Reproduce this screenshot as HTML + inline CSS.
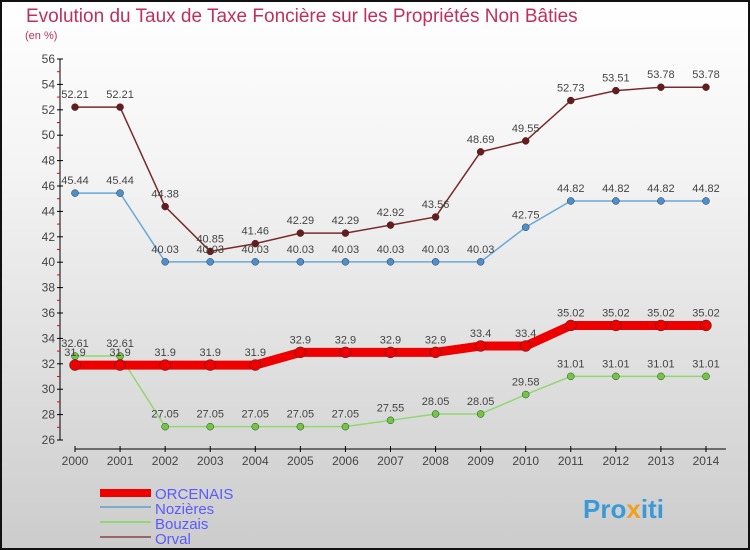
<!DOCTYPE html>
<html><head><meta charset="utf-8"><style>
body{margin:0}
#c{width:750px;height:550px;position:relative;box-sizing:border-box;border:2px solid #111;background:linear-gradient(#fff,#f4f4f4 30%,#ccc);font-family:"Liberation Sans",sans-serif;overflow:hidden}
</style></head><body>
<div id="c">
<svg id="s" width="750" height="550" style="position:absolute;left:-2px;top:-2px">
<text x="26" y="22" font-size="19" fill="#c0305a">Evolution du Taux de Taxe Foncière sur les Propriétés Non Bâties</text>
<text x="25" y="39" font-size="11" fill="#c0305a">(en %)</text>
<g id="axes"></g><g id="series"></g>
<g>
<rect x="100" y="489" width="51" height="8" fill="#e00"/>
<text x="155" y="499" font-size="15" fill="#5a5aff">ORCENAIS</text>
<rect x="100" y="506" width="51" height="2" fill="#7aaed0"/>
<text x="155" y="514" font-size="15" fill="#5a5aff">Nozières</text>
<rect x="100" y="521" width="51" height="2" fill="#90d870"/>
<text x="155" y="529" font-size="15" fill="#5a5aff">Bouzais</text>
<rect x="100" y="536" width="51" height="2" fill="#966"/>
<text x="155" y="544" font-size="15" fill="#5a5aff">Orval</text>
</g>
<text x="583" y="518" font-size="26" font-weight="bold" fill="#3a9ad8">Pro<tspan fill="#f0a020">x</tspan>iti</text>
</svg>
</div>
<script>
const years=[2000,2001,2002,2003,2004,2005,2006,2007,2008,2009,2010,2011,2012,2013,2014];
const orcenais=[31.9,31.9,31.9,31.9,31.9,32.9,32.9,32.9,32.9,33.4,33.4,35.02,35.02,35.02,35.02];
const nozieres=[45.44,45.44,40.03,40.03,40.03,40.03,40.03,40.03,40.03,40.03,42.75,44.82,44.82,44.82,44.82];
const bouzais=[32.61,32.61,27.05,27.05,27.05,27.05,27.05,27.55,28.05,28.05,29.58,31.01,31.01,31.01,31.01];
const orval=[52.21,52.21,44.38,40.85,41.46,42.29,42.29,42.92,43.56,48.69,49.55,52.73,53.51,53.78,53.78];
const yTicks=[26,28,30,32,34,36,38,40,42,44,46,48,50,52,54,56];
const NS="http://www.w3.org/2000/svg";
const X=i=>75+i*45.07, Y=v=>440-(v-26)*12.7;
function mk(t,a,p){const e=document.createElementNS(NS,t);for(const k in a)e.setAttribute(k,a[k]);p.appendChild(e);return e;}
const ax=document.getElementById('axes');
const yl=mk('line',{x1:60,x2:60,y1:Y(56),y2:Y(26),stroke:'#000'},ax);


yTicks.forEach(v=>{
 mk('line',{x1:57,x2:63,y1:Y(v),y2:Y(v),stroke:'#000'},ax);
 if(v<56) mk('line',{x1:57,x2:60,y1:Y(v+1),y2:Y(v+1),stroke:'#e00'},ax);
 const t=mk('text',{x:55,y:Y(v)+4,'font-size':12,'text-anchor':'end',fill:'#444'},ax);t.textContent=v;
 
 
});
const xl=mk('line',{x1:75,x2:X(14)+20,y1:449,y2:449,stroke:'#000'},ax);


years.forEach((y,i)=>{
 mk('line',{x1:X(i),x2:X(i),y1:446,y2:452,stroke:'#000'},ax);
 const t=mk('text',{x:X(i),y:465,'font-size':12,'text-anchor':'middle',fill:'#444'},ax);t.textContent=y;
 
 
});
const sg=document.getElementById('series');
function series(name,d,col,w,r,dot){
 const g=mk('g',{},sg);
 
 
 mk('polyline',{points:d.map((v,i)=>X(i)+','+Y(v)).join(' '),fill:'none',stroke:col,'stroke-width':w},g);
 d.forEach((v,i)=>{
  const c=mk('circle',{cx:X(i),cy:Y(v),r:r,fill:dot,stroke:'#333','stroke-width':0.5},g);
  
  
  const t=mk('text',{x:X(i),y:Y(v)-9,'font-size':11,'text-anchor':'middle',fill:'#444'},g);t.textContent=v;
  
  
 });
}
series('orval',orval,'#7a2a2a',1.5,3.5,'#6a1a1a');
series('nozieres',nozieres,'#6aa8d8',1.5,3.5,'#4a90d0');
series('bouzais',bouzais,'#90d870',1.5,3.5,'#70c840');
series('orcenais',orcenais,'#e00',9,5.5,'#e00');
</script>
</body></html>
